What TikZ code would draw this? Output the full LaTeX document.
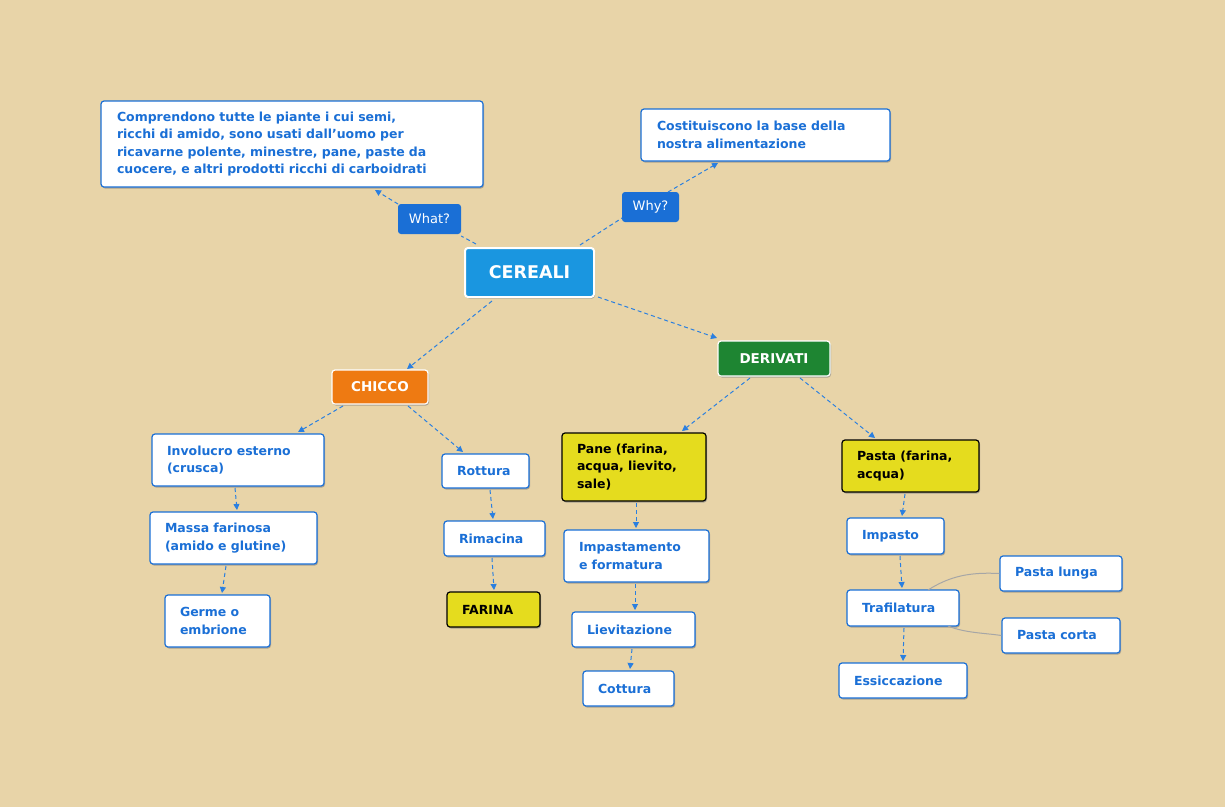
\documentclass[tikz,border=0pt]{standalone}
\usepackage{fontspec}
\setmainfont{DejaVu Sans}
\usetikzlibrary{shadows,arrows.meta}
\definecolor{bg}{HTML}{E8D4A8}
\definecolor{tb}{HTML}{1A6FD6}
\definecolor{cb}{HTML}{1A96E0}
\definecolor{og}{HTML}{EE7A12}
\definecolor{gr}{HTML}{1E8532}
\definecolor{yl}{HTML}{E5DC1E}
\definecolor{eb}{HTML}{2A7FE0}
\begin{document}
\begin{tikzpicture}[x=1pt,y=-1pt,
 base/.style={rounded corners=3pt,line width=1.2pt,font=\bfseries\fontsize{12.5}{17.4}\selectfont,align=left,inner xsep=0pt,inner ysep=0pt,drop shadow={shadow xshift=1pt,shadow yshift=-1.5pt,opacity=0.6}},
 wb/.style={base,draw=tb,fill=white,text=tb},
 yb/.style={base,draw=black,fill=yl,text=black},
 lb/.style={rounded corners=3pt,fill=tb,text=white,font=\fontsize{13}{15}\selectfont,minimum width=#1,minimum height=30pt,inner sep=0pt},
 ar/.style={draw=eb,line width=1pt,dash pattern=on 4pt off 3pt,-{Triangle[length=6pt,width=6pt]}},
 ln/.style={draw=eb,line width=1pt,dash pattern=on 4pt off 3pt},
 gl/.style={draw=gray!70,line width=1pt},
 hd/.style={rounded corners=3pt,fill=#1,draw=white,line width=1.2pt,text=white,font=\bfseries\fontsize{13.5}{15}\selectfont,drop shadow={shadow xshift=1pt,shadow yshift=-1.5pt,opacity=0.6}},
]
\fill[bg] (0,0) rectangle (1225,807);
\useasboundingbox (0,0) rectangle (1225,807);
\def\B#1#2#3#4#5#6#7#8{\node[#1,minimum width={(#4)-(#2)},minimum height={(#5)-(#3)},text width={(#4)-(#2)-2*(#7)}] (#6) at ({((#2)+(#4))/2},{((#3)+(#5))/2}) {#8};}
\B{wb}{101}{101}{483}{187}{desc}{16}{Comprendono tutte le piante i cui semi,\\ricchi di amido, sono usati dall'uomo per\\ricavarne polente, minestre, pane, paste da\\cuocere, e altri prodotti ricchi di carboidrati}
\B{wb}{641}{109}{890}{161}{base}{16}{Costituiscono la base della\\nostra alimentazione}
\node[lb=63pt] (what) at (429.5,219) {What?};
\node[lb=57pt] (why) at (650.5,207) {Why?};
\node[hd=cb,line width=2pt,font=\bfseries\fontsize{17.5}{20}\selectfont,minimum width=129pt,minimum height=49pt] (cer) at (529.5,272.5) {CEREALI};
\node[hd=og,minimum width=96pt,minimum height=34pt] (chi) at (380,387) {CHICCO};
\node[hd=gr,minimum width=112pt,minimum height=35pt] (der) at (774,358.5) {DERIVATI};
\B{wb}{152}{434}{324}{486}{inv}{15}{Involucro esterno\\(crusca)}
\B{wb}{150}{512}{317}{564}{mas}{15}{Massa farinosa\\(amido e glutine)}
\B{wb}{165}{595}{270}{647}{ger}{15}{Germe o\\embrione}
\B{wb}{442}{454}{529}{488}{rot}{15}{Rottura}
\B{wb}{444}{521}{545}{556}{rim}{15}{Rimacina}
\B{yb}{447}{592}{540}{627}{far}{15}{FARINA}
\B{yb}{562}{433}{706}{501}{pan}{15}{Pane (farina,\\acqua, lievito,\\sale)}
\B{wb}{564}{530}{709}{582}{imp}{15}{Impastamento\\e formatura}
\B{wb}{572}{612}{695}{647}{lie}{15}{Lievitazione}
\B{wb}{583}{671}{674}{706}{cot}{15}{Cottura}
\B{yb}{842}{440}{979}{492}{pas}{15}{Pasta (farina,\\acqua)}
\B{wb}{847}{518}{944}{554}{ipo}{15}{Impasto}
\B{wb}{847}{590}{959}{626}{tra}{15}{Trafilatura}
\B{wb}{839}{663}{967}{698}{ess}{15}{Essiccazione}
\B{wb}{1000}{556}{1122}{591}{plu}{15}{Pasta lunga}
\B{wb}{1002}{618}{1120}{653}{pco}{15}{Pasta corta}
\draw[ln] (476,244) -- (what.east |- 236,236);
\draw[ar] (398,204) -- (375,190);
\draw[ln] (580,245) -- (622,218);
\draw[ar] (668,192) -- (718,163);
\draw[ar] (492,301) -- (407,369);
\draw[ar] (598,297) -- (717,338);
\draw[ar] (343,406) -- (298,432);
\draw[ar] (408,406) -- (463,452);
\draw[ar] (235,488) -- (237,510);
\draw[ar] (226,566) -- (222,593);
\draw[ar] (490,490) -- (493,519);
\draw[ar] (492,558) -- (494,590);
\draw[ar] (750,378) -- (682,431);
\draw[ar] (800,378) -- (875,438);
\draw[ar] (636,503) -- (636,528);
\draw[ar] (635,584) -- (635,610);
\draw[ar] (632,649) -- (630,669);
\draw[ar] (905,494) -- (902,516);
\draw[ar] (900,556) -- (902,588);
\draw[ar] (904,628) -- (903,661);
\draw[gl] (928,590) .. controls (950,576) and (970,572) .. (plu.west);
\draw[gl] (948,626) .. controls (965,633) and (985,633) .. (pco.west);
\end{tikzpicture}
\end{document}
